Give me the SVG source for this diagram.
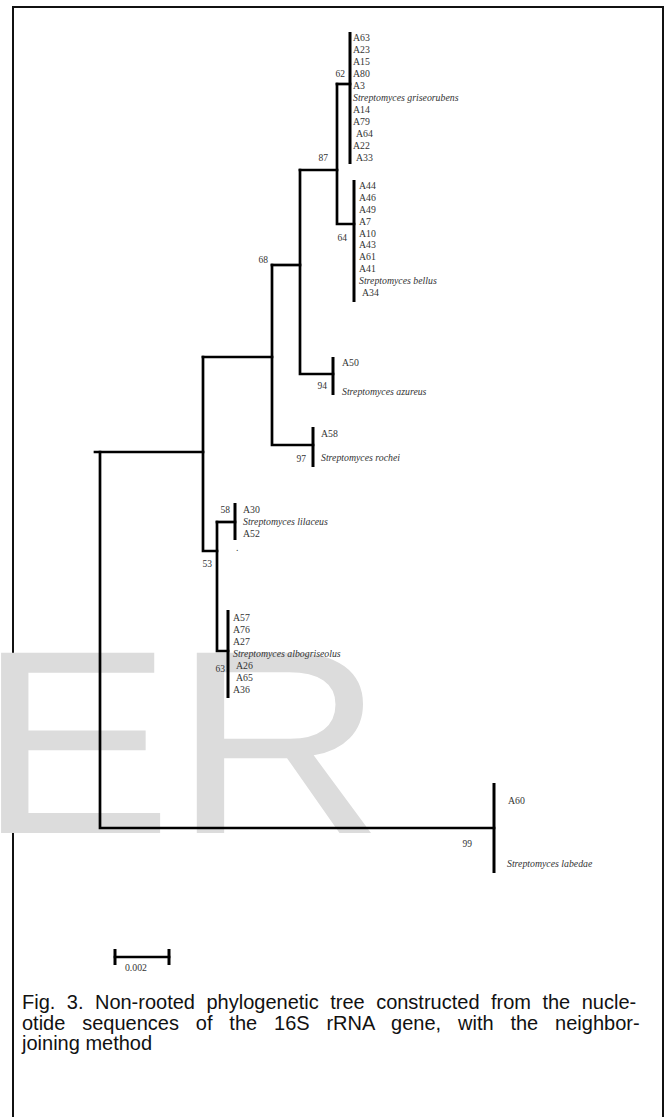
<svg xmlns="http://www.w3.org/2000/svg" width="667" height="1117" viewBox="0 0 667 1117">
<style>
.frame{fill:none;stroke:#111;stroke-width:2}
.br{fill:none;stroke:#000;stroke-width:2.7;stroke-linecap:square}
.bar{stroke:#000;stroke-width:3}
.lb{font-family:"Liberation Serif","DejaVu Serif",serif;font-size:9.8px;fill:#333}
.sp{font-style:italic}
.bs{font-family:"Liberation Serif","DejaVu Serif",serif;font-size:9.5px;fill:#333;text-anchor:end}
.wm{font-family:"Liberation Sans",Arial,sans-serif;font-size:262px;fill:#dcdcdc}
.cap{font-family:"Liberation Sans",Arial,sans-serif;font-size:20px;fill:#111}
</style>
<rect width="667" height="1117" fill="#fff"/>
<path class="frame" d="M13,1117 V7 H663 V1117"/>
<text class="wm" x="0" y="833" transform="translate(-23,0) scale(1.12,1)">ER</text>

<g id="connectors">
<path class="br" d="M337,84 H350"/>
<path class="br" d="M337,84 V224 H354"/>
<path class="br" d="M300,170 H337"/>
<path class="br" d="M300,170 V374 H333"/>
<path class="br" d="M272,265 H300"/>
<path class="br" d="M272,265 V445 H313"/>
<path class="br" d="M203,357 H272"/>
<path class="br" d="M203,357 V551 H217"/>
<path class="br" d="M217,522 H235"/>
<path class="br" d="M217,522 V651 H228"/>
<path class="br" d="M95,452 H203"/>
<path class="br" d="M100,452 V828 H494"/>
</g>

<g id="clade-griseorubens">
<line class="bar" x1="350" y1="32" x2="350" y2="164"/>
<text class="lb" x="353" y="41">A63</text>
<text class="lb" x="353" y="53">A23</text>
<text class="lb" x="353" y="65">A15</text>
<text class="lb" x="353" y="77">A80</text>
<text class="lb" x="353" y="89">A3</text>
<text class="lb sp" x="353" y="101">Streptomyces griseorubens</text>
<text class="lb" x="353" y="113">A14</text>
<text class="lb" x="353" y="125">A79</text>
<text class="lb" x="356" y="137">A64</text>
<text class="lb" x="353" y="149">A22</text>
<text class="lb" x="356" y="160.5">A33</text>
<text class="bs" x="345" y="76.5">62</text>
</g>

<g id="clade-bellus">
<line class="bar" x1="354" y1="180" x2="354" y2="302"/>
<text class="lb" x="359" y="188.5">A44</text>
<text class="lb" x="359" y="200.5">A46</text>
<text class="lb" x="359" y="212.5">A49</text>
<text class="lb" x="359" y="224.5">A7</text>
<text class="lb" x="359" y="236.5">A10</text>
<text class="lb" x="359" y="248">A43</text>
<text class="lb" x="359" y="260">A61</text>
<text class="lb" x="359" y="272">A41</text>
<text class="lb sp" x="359" y="284">Streptomyces bellus</text>
<text class="lb" x="362" y="296">A34</text>
<text class="bs" x="347" y="240.5">64</text>
</g>

<g id="node-87"><text class="bs" x="328" y="160.5">87</text></g>

<g id="clade-azureus">
<line class="bar" x1="333" y1="357" x2="333" y2="395"/>
<text class="lb" x="342" y="365.5">A50</text>
<text class="lb sp" x="342" y="394.5">Streptomyces azureus</text>
<text class="bs" x="327" y="388.5">94</text>
</g>

<g id="node-68"><text class="bs" x="268" y="263">68</text></g>

<g id="clade-rochei">
<line class="bar" x1="313" y1="427" x2="313" y2="467"/>
<text class="lb" x="321" y="436.5">A58</text>
<text class="lb sp" x="321" y="460.5">Streptomyces rochei</text>
<text class="bs" x="306" y="461.5">97</text>
</g>

<g id="clade-lilaceus">
<line class="bar" x1="235" y1="503" x2="235" y2="540"/>
<text class="lb" x="243" y="512.5">A30</text>
<text class="lb sp" x="243" y="525">Streptomyces lilaceus</text>
<text class="lb" x="243" y="537">A52</text>
<text class="lb" x="236" y="551">.</text>
<text class="bs" x="230" y="512.5">58</text>
</g>

<g id="node-53"><text class="bs" x="212" y="566.5">53</text></g>

<g id="clade-albogriseolus">
<line class="bar" x1="228" y1="610" x2="228" y2="698"/>
<text class="lb" x="233" y="620.5">A57</text>
<text class="lb" x="233" y="632.5">A76</text>
<text class="lb" x="233" y="644.5">A27</text>
<text class="lb sp" x="233" y="656.5">Streptomyces albogriseolus</text>
<text class="lb" x="236" y="668.5">A26</text>
<text class="lb" x="236" y="680.5">A65</text>
<text class="lb" x="233" y="692.5">A36</text>
<text class="bs" x="225" y="671.5">63</text>
</g>

<g id="clade-labedae">
<line class="bar" x1="494" y1="783" x2="494" y2="873"/>
<text class="lb" x="508" y="803.5">A60</text>
<text class="lb sp" x="507" y="866.5">Streptomyces labedae</text>
<text class="bs" x="472" y="847">99</text>
</g>

<g id="scale-bar">
<path class="br" d="M115,957 H169"/>
<line class="bar" x1="115" y1="949" x2="115" y2="965"/>
<line class="bar" x1="169" y1="949" x2="169" y2="965"/>
<text class="lb" x="136" y="971" font-size="8" text-anchor="middle">0.002</text>
</g>

<g id="caption">
<text class="cap" x="22" y="1009" word-spacing="5.9">Fig. 3. Non-rooted phylogenetic tree constructed from the nucle-</text>
<text class="cap" x="22" y="1030" word-spacing="11.3">otide sequences of the 16S rRNA gene, with the neighbor-</text>
<text class="cap" x="22" y="1050">joining method</text>
</g>
</svg>
